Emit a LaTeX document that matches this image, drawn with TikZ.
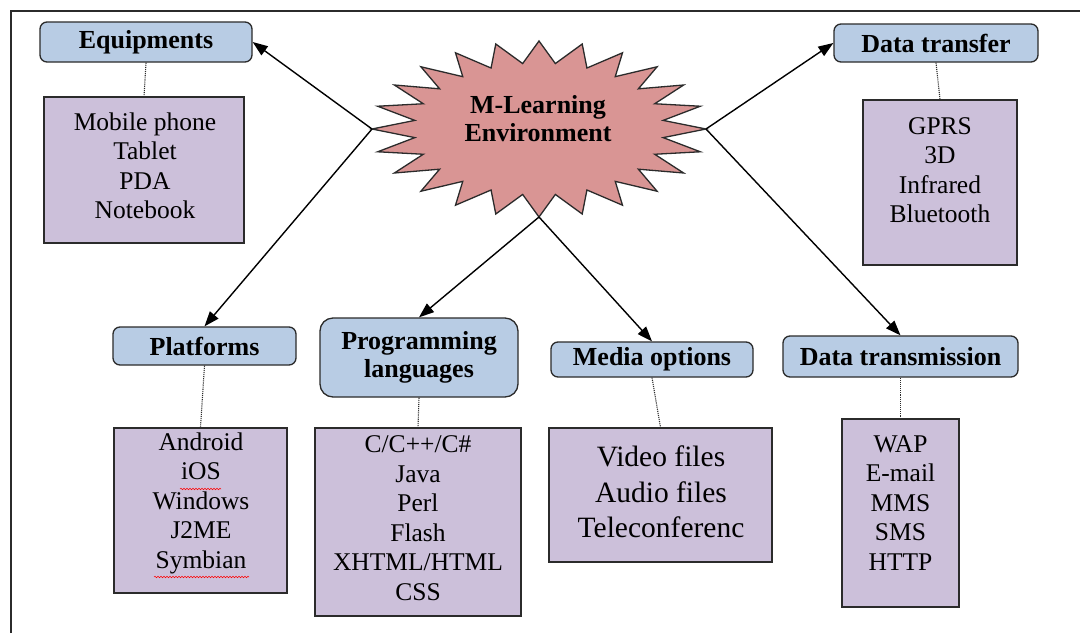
\documentclass[tikz,border=0pt]{standalone}
\usepackage{fontspec}
\setmainfont{Liberation Serif}
\usetikzlibrary{arrows.meta,decorations.pathmorphing}
\definecolor{hdrfill}{HTML}{B8CCE4}
\definecolor{lstfill}{HTML}{CCC0DA}
\definecolor{starfill}{HTML}{D99594}
\definecolor{edgegray}{HTML}{2B2B2B}
\tikzset{
  hdr/.style={draw=edgegray, line width=1.3pt, fill=hdrfill, rounded corners=7pt, inner sep=0pt,
    font=\fontsize{26}{27.5}\selectfont\bfseries, align=center},
  lst/.style={draw=edgegray, line width=1.3pt, fill=lstfill, inner sep=0pt},
  lsttxt/.style={font=\fontsize{25.5}{29.5}\selectfont, align=center, inner sep=0pt},
  bigtxt/.style={font=\fontsize{29.5}{35.5}\selectfont, align=center, inner sep=0pt},
  conn/.style={-{Triangle[length=15pt,width=11pt]}, line width=1.4pt, black},
  dots/.style={densely dotted, line width=1.1pt, edgegray},
  squiggle/.style={red, line width=0.5pt, decorate, decoration={snake, amplitude=0.8pt, segment length=3pt}}
}
\begin{document}
\begin{tikzpicture}[x=1pt,y=-1pt]
\useasboundingbox (0,0) rectangle (1080,633);
\fill[white] (0,0) rectangle (1080,633);
% frame
\draw[edgegray, line width=1.5pt] (11,633) -- (11,11) -- (1080,11);

% star
\draw[draw=edgegray, line width=1.3pt, fill=starfill, line join=miter]
  plot[samples at={0,...,47}, variable=\i]
  ({539+167*(1-0.25*mod(\i,2))*cos(\i*7.5)}, {129+88*(1-0.25*mod(\i,2))*sin(\i*7.5)}) -- cycle;
\node[font=\fontsize{26}{28}\selectfont\bfseries, align=center, inner sep=0pt] (ml) at (538,119) {M-Learning\\Environment};
\coordinate (tipL) at (372,129);
\coordinate (tipR) at (706,129);
\coordinate (tipB) at (539,217);

% headers
\node[hdr, minimum width=212pt, minimum height=40pt] (equip) at (146,42) {Equipments};
\node[hdr, minimum width=204pt, minimum height=38pt] (dtf) at (936,43) {Data transfer};
\node[hdr, minimum width=183pt, minimum height=38pt] (plat) at (204.5,346) {Platforms};
\node[hdr, rounded corners=13pt, minimum width=198pt, minimum height=79pt] (prog) at (419,357.5) {Programming\\languages};
\node[hdr, minimum width=202pt, minimum height=35pt] (media) at (652,359.5) {Media options};
\node[hdr, minimum width=235pt, minimum height=41pt] (dtm) at (900.5,356.5) {Data transmission};

% lists
\node[lst, minimum width=200pt, minimum height=146pt] (equipL) at (144,170) {};
\node[lsttxt] (equipT) at (145,166) {Mobile phone\\Tablet\\PDA\\Notebook};
\node[lst, minimum width=154pt, minimum height=165pt] (dtfL) at (940,182.5) {};
\node[lsttxt] (dtfT) at (940,170) {GPRS\\3D\\Infrared\\Bluetooth};
\node[lst, minimum width=173pt, minimum height=165pt] (platL) at (200.5,510.5) {};
\node[lsttxt] (platT) at (201,503) {Android\\iOS\\Windows\\J2ME\\Symbian};
\node[lst, minimum width=206pt, minimum height=188pt] (progL) at (418,522) {};
\node[lsttxt] (progT) at (418,518) {C/C++/C\#\\Java\\Perl\\Flash\\XHTML/HTML\\CSS};
\node[lst, minimum width=223pt, minimum height=134pt] (mediaL) at (660.5,495) {};
\node[bigtxt] (mediaT) at (661,492) {Video files\\Audio files\\Teleconferenc};
\node[lst, minimum width=117pt, minimum height=188pt] (dtmL) at (900.5,513) {};
\node[lsttxt] (dtmT) at (900.5,503) {WAP\\E-mail\\MMS\\SMS\\HTTP};

% spell-check squiggles
\draw[squiggle] (180,489) -- (221,489);
\draw[squiggle] (154,577) -- (249,577);

% dotted links
\draw[dots] (equip.south) -- (equipL.north);
\draw[dots] (dtf.south) -- (dtfL.north);
\draw[dots] (plat.south) -- (platL.north);
\draw[dots] (prog.south) -- (progL.north);
\draw[dots] (media.south) -- (mediaL.north);
\draw[dots] (dtm.south) -- (dtmL.north);

% arrows
\draw[conn] (tipL) -- (equip.east);
\draw[conn] (tipL) -- (plat.north);
\draw[conn] (tipB) -- (prog.north);
\draw[conn] (tipB) -- (media.north);
\draw[conn] (tipR) -- (dtf.west);
\draw[conn] (tipR) -- (dtm.north);
\end{tikzpicture}
\end{document}
